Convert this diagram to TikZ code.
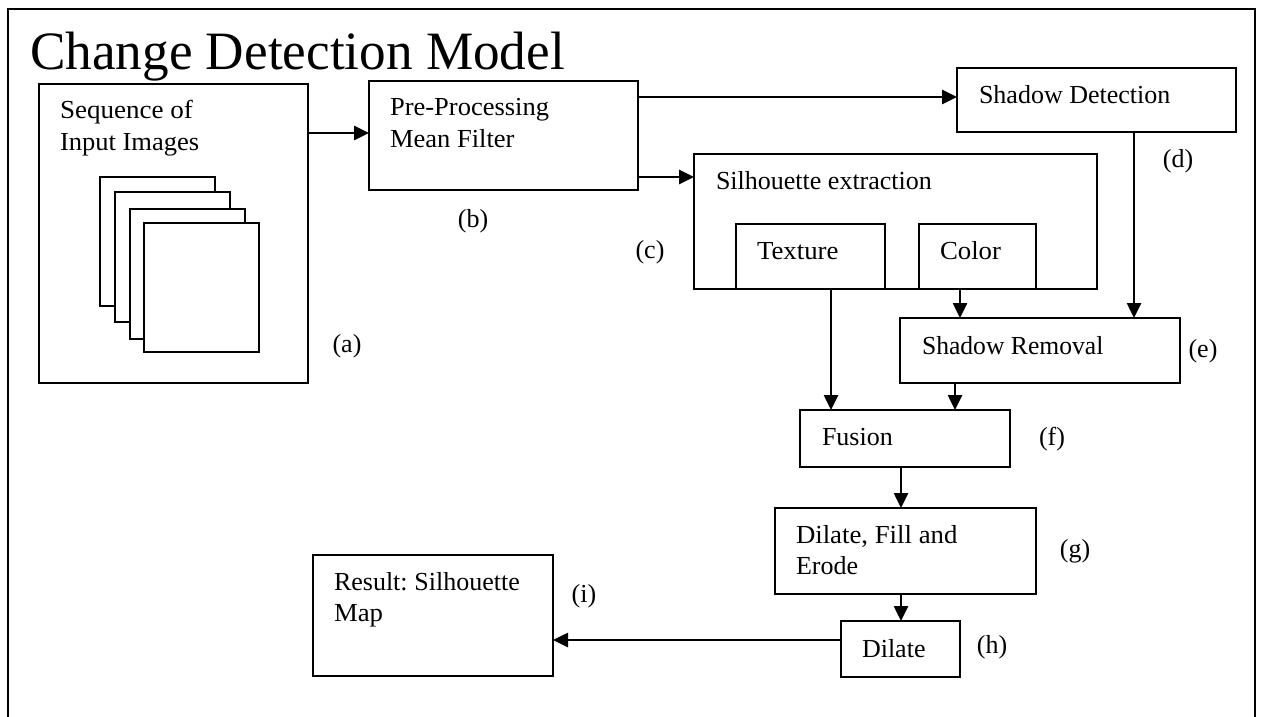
\documentclass[tikz,border=0pt]{standalone}
\usepackage{graphicx}
\usepackage{fontspec}
\setmainfont{Liberation Serif}
\usetikzlibrary{arrows.meta}
\newcommand{\hsq}[2]{\scalebox{#1}[1]{#2}}
\tikzset{
  box/.style={draw=black, line width=2.3pt, fill=white, inner sep=0pt, outer sep=0pt},
  txt/.style={anchor=base west, inner sep=0pt, outer sep=0pt, font=\fontsize{26}{30}\selectfont},
  lbl/.style={anchor=base, inner sep=0pt, outer sep=0pt, font=\fontsize{26}{30}\selectfont},
  arr/.style={line width=2.6pt, -{Triangle[length=15pt,width=14pt]}},
}
\begin{document}
\begin{tikzpicture}[x=1pt,y=-1pt]
\useasboundingbox (0,0) rectangle (1263,717);
% outer frame
\draw[line width=2.2pt] (8,717) -- (8,9) -- (1255,9) -- (1255,717);
% title
\node[anchor=base west, inner sep=0pt, font=\fontsize{54}{60}\selectfont] (title) at (30,70) {\hsq{0.985}{Change Detection Model}};

% boxes
\node[box, minimum width=269pt, minimum height=299pt] (a) at (173.5,233.5) {};
\node[box, minimum width=115pt, minimum height=129pt] (p1) at (157.5,241.5) {};
\node[box, minimum width=115pt, minimum height=130pt] (p2) at (172.5,257) {};
\node[box, minimum width=115pt, minimum height=130pt] (p3) at (187.5,274) {};
\node[box, minimum width=115pt, minimum height=129pt] (p4) at (201.5,287.5) {};
\node[box, minimum width=269pt, minimum height=109pt] (b) at (503.5,135.5) {};
\node[box, minimum width=279pt, minimum height=64pt] (sd) at (1096.5,100) {};
\node[box, minimum width=403pt, minimum height=135pt] (se) at (895.5,221.5) {};
\node[box, minimum width=149pt, minimum height=65pt] (tex) at (810.5,256.5) {};
\node[box, minimum width=117pt, minimum height=65pt] (col) at (977.5,256.5) {};
\node[box, minimum width=280pt, minimum height=65pt] (sr) at (1040,350.5) {};
\node[box, minimum width=210pt, minimum height=57pt] (fu) at (905,438.5) {};
\node[box, minimum width=261pt, minimum height=86pt] (dfe) at (905.5,551) {};
\node[box, minimum width=119pt, minimum height=56pt] (dil) at (900.5,649) {};
\node[box, minimum width=240pt, minimum height=121pt] (res) at (433,615.5) {};

% texts
\node[txt] (ta1) at (60,118) {\hsq{1.04}{Sequence of}};
\node[txt] (ta2) at (60,150) {\hsq{1.02}{Input Images}};
\node[txt] (tb1) at (390,115) {\hsq{1.02}{Pre-Processing}};
\node[txt] (tb2) at (390,147) {\hsq{1.02}{Mean Filter}};
\node[txt] (tsd) at (979,103) {Shadow Detection};
\node[txt] (tse) at (716,189) {Silhouette extraction};
\node[txt] (ttex) at (757,259) {\hsq{1.03}{Texture}};
\node[txt] (tcol) at (940,259) {\hsq{1.03}{Color}};
\node[txt] (tsr) at (922,354) {\hsq{0.985}{Shadow Removal}};
\node[txt] (tfu) at (822,445) {Fusion};
\node[txt] (tdfe1) at (796,543) {\hsq{1.03}{Dilate, Fill and}};
\node[txt] (tdfe2) at (796,574) {Erode};
\node[txt] (tdil) at (862,657) {Dilate};
\node[txt] (tres1) at (334,590) {Result:\hspace{-2pt} Silhouette};
\node[txt] (tres2) at (334,621) {\hsq{1.03}{Map}};

% labels
\node[lbl] (la) at (347,352) {(a)};
\node[lbl] (lb) at (473,227) {(b)};
\node[lbl] (lc) at (650,258) {(c)};
\node[lbl] (ld) at (1178,167) {(d)};
\node[lbl] (le) at (1203,357) {(e)};
\node[lbl] (lf) at (1052,445) {(f)};
\node[lbl] (lg) at (1075,557) {(g)};
\node[lbl] (lh) at (992,653) {(h)};
\node[lbl] (li) at (584,602) {(i)};

% connectors
\draw[arr] (a.east |- 0,133) -- (b.west |- 0,133);
\draw[arr] (b.east |- 0,97) -- (sd.west |- 0,97);
\draw[arr] (b.east |- 0,177) -- (se.west |- 0,177);
\draw[arr] (sd.south -| 1134,0) -- (sr.north -| 1134,0);
\draw[arr] (col.south -| 960,0) -- (sr.north -| 960,0);
\draw[arr] (tex.south -| 831,0) -- (fu.north -| 831,0);
\draw[arr] (sr.south -| 955,0) -- (fu.north -| 955,0);
\draw[arr] (fu.south -| 901,0) -- (dfe.north -| 901,0);
\draw[arr] (dfe.south -| 901,0) -- (dil.north -| 901,0);
\draw[arr] (dil.west |- 0,640) -- (res.east |- 0,640);
\end{tikzpicture}
\end{document}
